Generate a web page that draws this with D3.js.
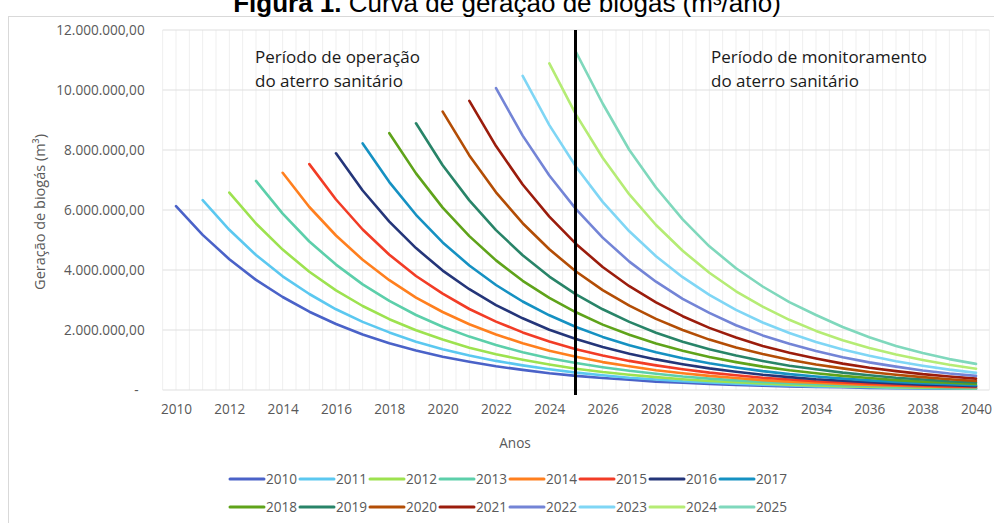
<!DOCTYPE html>
<html>
<head>
<meta charset="utf-8">
<script src="https://cdn.jsdelivr.net/npm/d3@7"></script>
<style>
  body { margin: 0; background: #fff; }
  svg { display: block; font-family: 'Open Sans', sans-serif; }
</style>
</head>
<body>
<div id="chart"></div>
<script>
// biogas generation per landfill cell (millions of m3 / year)
const seriesNames = ['2010', '2011', '2012', '2013', '2014', '2015', '2016', '2017',
  '2018', '2019', '2020', '2021', '2022', '2023', '2024', '2025']
const seriesColors = ['#4a62c8', '#5bc8f0', '#9de24f', '#5ccfaa', '#ff7f1e', '#f23c26', '#243579', '#1591c2',
  '#5fa31a', '#288468', '#b34d05', '#9b1c0c', '#7384d6', '#7fd6f5', '#b5ec74', '#7fd8bc']

const s2010 = [6.13, 5.17, 4.36, 3.67, 3.10, 2.61, 2.20, 1.85, 1.56, 1.32, 1.11, 0.94, 0.79, 0.67, 0.56, 0.47,
  0.40, 0.34, 0.28, 0.24, 0.20, 0.17, 0.14, 0.12, 0.10, 0.09, 0.07, 0.06, 0.05, 0.04, 0.04]
const s2011 = [6.33, 5.34, 4.50, 3.79, 3.20, 2.69, 2.27, 1.92, 1.61, 1.36, 1.15, 0.97, 0.82, 0.69, 0.58, 0.49,
  0.41, 0.35, 0.29, 0.25, 0.21, 0.18, 0.15, 0.12, 0.11, 0.09, 0.07, 0.06, 0.05, 0.04]
const s2012 = [6.58, 5.55, 4.68, 3.94, 3.32, 2.80, 2.36, 1.99, 1.68, 1.41, 1.19, 1.01, 0.85, 0.71, 0.60, 0.51,
  0.43, 0.36, 0.30, 0.26, 0.22, 0.18, 0.15, 0.13, 0.11, 0.09, 0.08, 0.07, 0.06]
const s2013 = [6.97, 5.88, 4.95, 4.18, 3.52, 2.97, 2.50, 2.11, 1.78, 1.50, 1.26, 1.06, 0.90, 0.76, 0.64, 0.54,
  0.45, 0.38, 0.32, 0.27, 0.23, 0.19, 0.16, 0.14, 0.12, 0.10, 0.08, 0.07]
const s2014 = [7.24, 6.10, 5.15, 4.34, 3.66, 3.08, 2.60, 2.19, 1.85, 1.56, 1.31, 1.11, 0.93, 0.79, 0.66, 0.56,
  0.47, 0.40, 0.33, 0.28, 0.24, 0.20, 0.17, 0.14, 0.12, 0.10, 0.09]
const s2015 = [7.53, 6.35, 5.35, 4.51, 3.80, 3.21, 2.70, 2.28, 1.92, 1.62, 1.36, 1.15, 0.97, 0.82, 0.69, 0.58,
  0.49, 0.41, 0.35, 0.29, 0.25, 0.21, 0.18, 0.15, 0.12, 0.11]
const s2016 = [7.89, 6.65, 5.61, 4.73, 3.98, 3.36, 2.83, 2.39, 2.01, 1.70, 1.43, 1.21, 1.02, 0.86, 0.72, 0.61,
  0.51, 0.43, 0.36, 0.31, 0.26, 0.22, 0.18, 0.16, 0.13]
const s2017 = [8.22, 6.93, 5.84, 4.92, 4.15, 3.50, 2.95, 2.49, 2.10, 1.77, 1.49, 1.26, 1.06, 0.89, 0.75, 0.63,
  0.53, 0.45, 0.38, 0.32, 0.27, 0.23, 0.19, 0.16]
const s2018 = [8.56, 7.22, 6.08, 5.13, 4.32, 3.64, 3.07, 2.59, 2.18, 1.84, 1.55, 1.31, 1.10, 0.93, 0.78, 0.66,
  0.56, 0.47, 0.40, 0.33, 0.28, 0.24, 0.20]
const s2019 = [8.89, 7.49, 6.32, 5.33, 4.49, 3.78, 3.19, 2.69, 2.27, 1.91, 1.61, 1.36, 1.15, 0.97, 0.81, 0.69,
  0.58, 0.49, 0.41, 0.35, 0.29, 0.25]
const s2020 = [9.28, 7.82, 6.59, 5.56, 4.69, 3.95, 3.33, 2.81, 2.37, 2.00, 1.68, 1.42, 1.20, 1.01, 0.85, 0.72,
  0.60, 0.51, 0.43, 0.36, 0.30]
const s2021 = [9.64, 8.13, 6.85, 5.78, 4.87, 4.10, 3.46, 2.92, 2.46, 2.07, 1.75, 1.47, 1.24, 1.05, 0.88, 0.74,
  0.63, 0.53, 0.45, 0.38]
const s2022 = [10.06, 8.48, 7.15, 6.03, 5.08, 4.28, 3.61, 3.04, 2.57, 2.16, 1.82, 1.54, 1.30, 1.09, 0.92, 0.78,
  0.65, 0.55, 0.47]
const s2023 = [10.47, 8.83, 7.44, 6.27, 5.29, 4.46, 3.76, 3.17, 2.67, 2.25, 1.90, 1.60, 1.35, 1.14, 0.96, 0.81,
  0.68, 0.57]
const s2024 = [10.89, 9.18, 7.74, 6.52, 5.50, 4.64, 3.91, 3.29, 2.78, 2.34, 1.97, 1.66, 1.40, 1.18, 1.00, 0.84,
  0.71]
const s2025 = [11.26, 9.55, 8.00, 6.75, 5.69, 4.79, 4.06, 3.45, 2.93, 2.50, 2.10, 1.76, 1.47, 1.23, 1.03, 0.87]

const seriesValues = [s2010, s2011, s2012, s2013, s2014, s2015, s2016, s2017,
  s2018, s2019, s2020, s2021, s2022, s2023, s2024, s2025]

const xTickYears = [2010, 2012, 2014, 2016, 2018, 2020, 2022, 2024, 2026, 2028, 2030, 2032, 2034, 2036, 2038, 2040]
const yTickValues = [0, 2, 4, 6, 8, 10, 12]
const closureYear = 2025

const width = 994
const height = 523

const svg = d3.select('#chart').append('svg')
  .attr('width', width)
  .attr('height', height)

// chart frame
svg.append('rect')
  .attr('x', 8.5).attr('y', 16.5)
  .attr('width', width + 10).attr('height', height)
  .attr('fill', 'none')
  .attr('stroke', '#d9d9d9')

// title (partly cut off at the top, as in the original page)
const title = svg.append('text')
  .attr('x', 507).attr('y', 12)
  .attr('text-anchor', 'middle')
  .style('font-family', "'Liberation Sans', Arial, sans-serif")
  .style('font-size', '26px')
  .attr('fill', '#000')
title.append('tspan').style('font-weight', 'bold').text('Figura 1.')
title.append('tspan').text(' Curva de geração de biogás (m³/ano)')

const x = d3.scaleLinear().domain([2010, 2040]).range([176, 976])
const y = d3.scaleLinear().domain([0, 12]).range([390, 30])

const locale = d3.formatLocale({ decimal: ',', thousands: '.', grouping: [3], currency: ['R$', ''] })
const fmt = locale.format(',.2f')

// vertical gridlines, every half year
svg.append('g')
  .selectAll('line')
  .data(d3.range(2009.5, 2040.51, 0.5))
  .join('line')
  .attr('x1', d => x(d)).attr('x2', d => x(d))
  .attr('y1', y(12)).attr('y2', y(0))
  .attr('stroke', '#efefef')
  .attr('stroke-width', 1)

// horizontal gridlines
svg.append('g')
  .selectAll('line')
  .data(yTickValues)
  .join('line')
  .attr('x1', x(2009.5)).attr('x2', x(2040.5))
  .attr('y1', d => y(d)).attr('y2', d => y(d))
  .attr('stroke', '#e0e0e0')
  .attr('stroke-width', 1.2)

// y axis
const yAxis = svg.append('g')
  .attr('transform', `translate(${x(2009.5) - 18},0)`)
  .call(d3.axisLeft(y).tickValues(yTickValues).tickSize(0)
    .tickFormat(d => d === 0 ? '-' : fmt(d * 1e6)))
yAxis.select('.domain').remove()
yAxis.selectAll('text')
  .attr('x', 0)
  .style('font-family', "'Open Sans', sans-serif")
  .style('font-size', '13.6px')
  .attr('fill', '#595959')
yAxis.selectAll('.tick').filter(d => d === 0).select('text').attr('x', -6)

// x axis
const xAxis = svg.append('g')
  .attr('transform', `translate(0,${y(0)})`)
  .call(d3.axisBottom(x).tickValues(xTickYears).tickSize(0).tickFormat(d3.format('d')))
xAxis.select('.domain').remove()
xAxis.selectAll('text')
  .attr('y', 14)
  .style('font-family', "'Open Sans', sans-serif")
  .style('font-size', '13.6px')
  .attr('fill', '#595959')

// axis titles
svg.append('text')
  .attr('transform', `translate(45,${(y(0) + y(12)) / 2 + 2}) rotate(-90)`)
  .attr('text-anchor', 'middle')
  .style('font-size', '14.5px')
  .attr('fill', '#595959')
  .text('Geração de biogás (m³)')

svg.append('text')
  .attr('x', 515).attr('y', 448)
  .attr('text-anchor', 'middle')
  .style('font-size', '13.6px')
  .attr('fill', '#595959')
  .text('Anos')

// curves
const line = d3.line()
  .x(d => x(d.year))
  .y(d => y(d.value))

const series = seriesNames.map((name, i) => ({
  name,
  color: seriesColors[i],
  points: seriesValues[i].map((v, j) => ({ year: +name + j, value: v }))
}))

svg.append('g')
  .selectAll('path')
  .data(series)
  .join('path')
  .attr('d', d => line(d.points))
  .attr('fill', 'none')
  .attr('stroke', d => d.color)
  .attr('stroke-width', 2.6)
  .attr('stroke-linejoin', 'round')
  .attr('stroke-linecap', 'round')

// end of operation marker
svg.append('line')
  .attr('x1', x(closureYear) - 0.5).attr('x2', x(closureYear) - 0.5)
  .attr('y1', y(12)).attr('y2', y(0) + 5)
  .attr('stroke', '#000')
  .attr('stroke-width', 3)

// period annotations
const notes = [
  { x: 255, lines: ['Período de operação', 'do aterro sanitário'] },
  { x: 711, lines: ['Período de monitoramento', 'do aterro sanitário'] }
]
notes.forEach(n => {
  svg.append('text')
    .attr('x', n.x).attr('y', 63)
    .style('font-size', '17px')
    .attr('fill', '#1a1a1a')
    .selectAll('tspan')
    .data(n.lines)
    .join('tspan')
    .attr('x', n.x)
    .attr('dy', (d, i) => i === 0 ? 0 : 23.5)
    .text(d => d)
})

// legend, two rows of eight
const legend = svg.append('g')
  .selectAll('g')
  .data(series)
  .join('g')
  .attr('transform', (d, i) => `translate(${230 + (i % 8) * 70},${i < 8 ? 479 : 507})`)
legend.append('line')
  .attr('x1', 0).attr('x2', 34)
  .attr('stroke', d => d.color)
  .attr('stroke-width', 3)
  .attr('stroke-linecap', 'round')
legend.append('text')
  .attr('x', 36).attr('dy', '0.35em')
  .style('font-size', '13.6px')
  .attr('fill', '#595959')
  .text(d => d.name)
</script>
</body>
</html>
